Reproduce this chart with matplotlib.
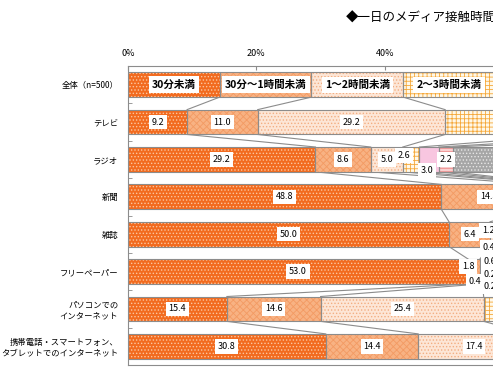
import matplotlib
matplotlib.use("Agg")
import matplotlib.pyplot as plt
import numpy as np

plt.rcParams["font.family"] = ["Noto Sans CJK JP", "DejaVu Sans"]
plt.rcParams["hatch.linewidth"] = 0.6

TITEL = "◆一日のメディア接触時間"

CATEGORIEEN = [
    "30分未満",
    "30分～1時間未満",
    "1～2時間未満",
    "2～3時間未満",
    "3～4時間未満",
    "4時間以上",
    "接触していない",
]

RIJ_LABELS = [
    "全体（n=500）",
    "テレビ",
    "ラジオ",
    "新聞",
    "雑誌",
    "フリーペーパー",
    "パソコンでの\nインターネット",
    "携帯電話・スマートフォン、\nタブレットでのインターネット",
]

# percentages per medium, in de volgorde van CATEGORIEEN
TELEVISIE = [9.2, 11.0, 29.2, 21.0, 11.4, 12.8, 5.4]
RADIO = [29.2, 8.6, 5.0, 2.6, 3.0, 2.2, 49.4]
KRANT = [48.8, 14.8, 2.6, 0.6, 0.2, 0.4, 32.6]
TIJDSCHRIFT = [50.0, 6.4, 1.2, 0.4, 0.2, 0.2, 41.6]
HUIS_AAN_HUIS = [53.0, 1.8, 0.4, 0.6, 0.2, 0.2, 43.8]
PC_INTERNET = [15.4, 14.6, 25.4, 9.8, 3.2, 2.4, 29.2]
MOBIEL_INTERNET = [30.8, 14.4, 17.4, 8.6, 4.2, 5.8, 18.8]

MEDIA_WAARDEN = [
    TELEVISIE,
    RADIO,
    KRANT,
    TIJDSCHRIFT,
    HUIS_AAN_HUIS,
    PC_INTERNET,
    MOBIEL_INTERNET,
]

# vulling per categorie: (kleur, arcering, arceerkleur)
STIJLEN = [
    ("#F26B1F", ".....", "#FBC6A0"),
    ("#F8B283", "xxxxx", "#F39A63"),
    ("#FDE6D6", ".....", "#F3AE82"),
    ("#FFF8E8", "++++", "#F5A83A"),
    ("#F8C6E0", "", "#F8C6E0"),
    ("#F9D0D0", "-----", "#EE8A8A"),
    ("#A6A6A6", ".....", "#E6E6E6"),
]

# handmatige verschuiving van kleine labels: (rij, segment) -> (dx %, dy rij)
LABEL_VERSCHUIVING = {
    (2, 3): (-1.1, -0.1),
    (2, 4): (-0.3, 0.3),
    (4, 2): (-0.9, -0.1),
    (4, 3): (-1.6, 0.35),
    (5, 1): (-0.9, -0.13),
    (5, 2): (-1.0, 0.27),
    (5, 3): (0.9, -0.27),
    (5, 4): (0.5, 0.08),
    (5, 5): (0.3, 0.4),
}

RAND = "#8C8C8C"
BALK_HOOGTE = 0.665
# het plaatje is rechts afgesneden: labels daarbuiten vallen weg
ZICHTBAAR_TOT = 58

fig = plt.figure(figsize=(4.93, 3.67), dpi=100)
ax = fig.add_axes([128 / 493, 2 / 367, 642 / 493, 299 / 367])

legenda_rij = [100 / len(CATEGORIEEN)] * len(CATEGORIEEN)
alle_rijen = [legenda_rij] + MEDIA_WAARDEN

for r, waarden in enumerate(alle_rijen):
    links = 0.0
    for k, w in enumerate(waarden):
        kleur, arcering, arceerkleur = STIJLEN[k]
        ax.barh(r, w, left=links, height=BALK_HOOGTE, color=kleur,
                hatch=arcering, edgecolor=arceerkleur, linewidth=0, zorder=2)
        ax.barh(r, w, left=links, height=BALK_HOOGTE, fill=False,
                edgecolor=RAND, linewidth=0.8, zorder=3)

        dx, dy = LABEL_VERSCHUIVING.get((r, k), (0, 0))
        midden = links + w / 2 + dx
        links += w
        if midden > ZICHTBAAR_TOT:
            continue

        if r == 0:
            ax.text(midden, r, CATEGORIEEN[k], ha="center", va="center",
                    fontsize=7.6, fontweight="bold", zorder=5,
                    bbox=dict(boxstyle="square,pad=0.3", fc="white", ec="none"))
        else:
            ax.text(midden, r + dy, f"{w:.1f}", ha="center", va="center",
                    fontsize=6.5, zorder=5,
                    bbox=dict(boxstyle="square,pad=0.3", fc="white", ec="none"))

# verbindingslijnen tussen de segmentgrenzen van opeenvolgende balken
for r in range(len(alle_rijen) - 1):
    boven = np.cumsum(alle_rijen[r])
    onder = np.cumsum(alle_rijen[r + 1])
    for k in range(len(CATEGORIEEN) - 1):
        ax.plot([boven[k], onder[k]],
                [r + BALK_HOOGTE / 2, r + 1 - BALK_HOOGTE / 2],
                color=RAND, linewidth=0.8, zorder=1)

ax.set_xlim(0, 100)
ax.set_ylim(len(alle_rijen) - 0.5, -0.5)

ax.xaxis.tick_top()
ax.set_xticks(range(0, 101, 20))
ax.set_xticklabels([f"{v}%" for v in range(0, 101, 20)])
ax.tick_params(axis="x", direction="in", length=3, color=RAND,
               labelsize=6.5, pad=6)

ax.set_yticks(range(len(RIJ_LABELS)))
ax.set_yticklabels(RIJ_LABELS, fontsize=6, ha="right")
ax.tick_params(axis="y", which="major", length=0, pad=7)
ax.set_yticks(np.arange(0.5, len(RIJ_LABELS) - 0.5, 1), minor=True)
ax.tick_params(axis="y", which="minor", direction="in", length=3, color=RAND)

for spine in ax.spines.values():
    spine.set_color(RAND)
    spine.set_linewidth(0.8)

fig.text(346 / 493, 1 - 18 / 367, TITEL, ha="left", va="center", fontsize=9)

fig.savefig("out.png", dpi=100)
plt.close(fig)
